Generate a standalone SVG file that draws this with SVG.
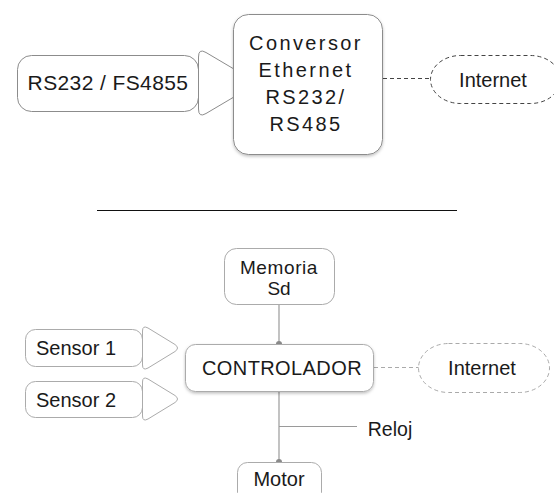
<svg xmlns="http://www.w3.org/2000/svg" width="554" height="493" viewBox="0 0 554 493">
<defs>
<filter id="sh" x="-10%" y="-10%" width="125%" height="130%">
<feDropShadow dx="0" dy="1.5" stdDeviation="1.5" flood-color="#000" flood-opacity="0.25"/>
</filter>
<style>
.t{font-family:"Liberation Sans",Arial,Helvetica,sans-serif;fill:#1a1a1a;text-anchor:middle}
.box{fill:#fff;stroke:#8c8c8c;stroke-width:1}
.lbox{fill:#fff;stroke:#ababab;stroke-width:1}
.conn{stroke:#9a9a9a;stroke-width:1.2;fill:none}
.dot{fill:#8a8a8a}
</style>
</defs>
<rect width="554" height="493" fill="#fff"/>

<g id="connectors">
<line x1="383" y1="78.5" x2="431" y2="78.5" stroke="#444" stroke-width="1" stroke-dasharray="4,3"/>
<line x1="97" y1="210.5" x2="457" y2="210.5" stroke="#111" stroke-width="1.2"/>
<line class="conn" x1="279" y1="305" x2="279" y2="344"/>
<circle class="dot" cx="279" cy="344" r="3"/>
<line class="conn" x1="279" y1="392" x2="279" y2="462"/>
<line class="conn" x1="279" y1="426.5" x2="357" y2="426.5"/>
<circle class="dot" cx="279" cy="462" r="3"/>
<line x1="374" y1="367.5" x2="419" y2="367.5" stroke="#aaa" stroke-width="1" stroke-dasharray="4,3"/>
</g>

<g id="rs232">
<rect class="box" x="17.5" y="55.5" width="181" height="56" rx="14"/>
<path class="box" d="M198.5,57 Q198.5,48 206,52.5 L250,78.5 Q257,83 250,87.5 L206,113.5 Q198.5,118 198.5,109 Z"/>
<text class="t" x="108" y="90" font-size="21" letter-spacing="0.4">RS232 / FS4855</text>
</g>

<g id="conversor">
<rect class="box" x="233.5" y="14.5" width="149" height="140" rx="15" filter="url(#sh)"/>
<text class="t" x="306" y="50" font-size="20" letter-spacing="2.4">Conversor</text>
<text class="t" x="306" y="77" font-size="20" letter-spacing="2.4">Ethernet</text>
<text class="t" x="306" y="104" font-size="20" letter-spacing="2.4">RS232/</text>
<text class="t" x="306" y="131" font-size="20" letter-spacing="2.4">RS485</text>
</g>

<g id="internet1">
<rect x="430.5" y="55.5" width="130" height="48" rx="30" ry="24" fill="#fff" stroke="#444" stroke-width="1" stroke-dasharray="4,3"/>
<text class="t" x="493" y="87" font-size="20">Internet</text>
</g>

<g id="memoria">
<rect class="lbox" x="224.5" y="248.5" width="110" height="56" rx="12"/>
<text class="t" x="279" y="274" font-size="19" letter-spacing="0.6">Memoria</text>
<text class="t" x="279" y="295" font-size="19">Sd</text>
</g>

<g id="sensor1">
<rect class="lbox" x="25.5" y="329.5" width="117" height="37" rx="10"/>
<path class="lbox" d="M142.5,331 Q142.5,325 148,328 L175,344.5 Q180,348 175,351.5 L148,368 Q142.5,371 142.5,365 Z"/>
<text class="t" x="76" y="355" font-size="20">Sensor 1</text>
</g>

<g id="sensor2">
<rect class="lbox" x="25.5" y="381.5" width="117" height="36" rx="10"/>
<path class="lbox" d="M142.5,382 Q142.5,376 148,379 L175,395.5 Q180,399 175,402.5 L148,419 Q142.5,422 142.5,416 Z"/>
<text class="t" x="76" y="407" font-size="20">Sensor 2</text>
</g>

<g id="controlador">
<rect class="lbox" x="185.5" y="344.5" width="188" height="47" rx="10" filter="url(#sh)"/>
<text class="t" x="282" y="375" font-size="20" letter-spacing="0.4">CONTROLADOR</text>
</g>

<g id="internet2">
<rect x="418.5" y="343.5" width="131" height="49" rx="30" ry="24.5" fill="#fff" stroke="#aaa" stroke-width="1" stroke-dasharray="4,3"/>
<text class="t" x="482" y="375" font-size="20">Internet</text>
</g>

<g id="reloj">
<text class="t" x="390" y="436" font-size="19.5">Reloj</text>
</g>

<g id="motor">
<rect class="lbox" x="237.5" y="462.5" width="84" height="40" rx="10"/>
<text class="t" x="279" y="486" font-size="20">Motor</text>
</g>
</svg>
